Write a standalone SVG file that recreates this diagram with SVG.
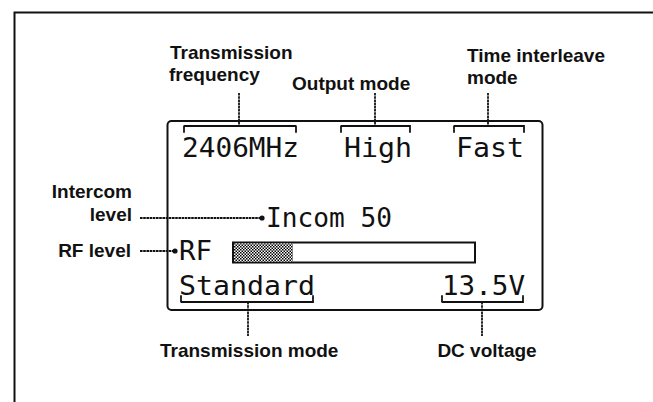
<svg xmlns="http://www.w3.org/2000/svg" width="653" height="402" viewBox="0 0 653 402">
<defs>
<pattern id="dots" width="3" height="3" patternUnits="userSpaceOnUse">
<rect width="3" height="3" fill="#fff"/>
<rect width="1.5" height="1.5" fill="#000"/>
<rect x="1.5" y="1.5" width="1.5" height="1.5" fill="#000"/>
</pattern>
</defs>
<style>
.lbl{font-family:"Liberation Sans",Arial,sans-serif;font-size:19px;font-weight:bold;fill:#111}
.lcd{font-family:"DejaVu Sans Mono","Liberation Mono",monospace;font-size:26px;fill:#111}
.frame{fill:none;stroke:#111;stroke-width:2}
.wav{fill:none;stroke:#111;stroke-width:1.8;stroke-dasharray:2.6 0.6}
.brk{fill:none;stroke:#111;stroke-width:1.8;stroke-dasharray:2.6 0.6;stroke-linecap:round}
.dot{fill:#111}
</style>
<rect width="653" height="402" fill="#fff"/>
<g id="frame">
<path class="frame" d="M14.5,402 V12.5 H653"/>
</g>
<g id="lcd-panel">
<rect class="frame" x="167.5" y="121" width="375" height="189" rx="4"/>
</g>
<g id="node-frequency">
<text class="lcd" x="182" y="157" textLength="117" lengthAdjust="spacingAndGlyphs">2406MHz</text>
</g>
<g id="node-output">
<text class="lcd" x="344" y="157" textLength="68" lengthAdjust="spacingAndGlyphs">High</text>
</g>
<g id="node-interleave">
<text class="lcd" x="456" y="157" textLength="68" lengthAdjust="spacingAndGlyphs">Fast</text>
</g>
<g id="node-incom">
<text class="lcd" x="266" y="227" textLength="126" lengthAdjust="spacingAndGlyphs">Incom 50</text>
</g>
<g id="node-rf">
<text class="lcd" x="179" y="260" textLength="33" lengthAdjust="spacingAndGlyphs">RF</text>
<rect x="233" y="242.5" width="242" height="20" fill="#fff" stroke="#111" stroke-width="2"/>
<rect x="234" y="243.5" width="59" height="18" fill="url(#dots)"/>
</g>
<g id="node-standard">
<text class="lcd" x="179" y="295" textLength="136" lengthAdjust="spacingAndGlyphs">Standard</text>
</g>
<g id="node-voltage">
<text class="lcd" x="442" y="295" textLength="83" lengthAdjust="spacingAndGlyphs">13.5V</text>
</g>
<g id="labels">
<text class="lbl" x="170" y="59">Transmission</text>
<text class="lbl" x="169" y="81">frequency</text>
<text class="lbl" x="292" y="90">Output mode</text>
<text class="lbl" x="467" y="62">Time interleave</text>
<text class="lbl" x="467" y="84">mode</text>
<text class="lbl" x="132" y="198" text-anchor="end">Intercom</text>
<text class="lbl" x="132" y="221" text-anchor="end">level</text>
<text class="lbl" x="131" y="257" text-anchor="end">RF level</text>
<text class="lbl" x="160" y="357">Transmission mode</text>
<text class="lbl" x="487" y="357" text-anchor="middle">DC voltage</text>
</g>
<g id="connectors">
<path class="brk" d="M184,132 V126 H296 V132"/>
<path class="wav" d="M239,93 V126"/>
<path class="brk" d="M341,132 V126 H410 V132"/>
<path class="wav" d="M375,93 V126"/>
<path class="brk" d="M454,132 V126 H524 V132"/>
<path class="wav" d="M488,93 V126"/>
<path class="brk" d="M181,296 V302 H313 V296"/>
<path class="wav" d="M248,302 V336"/>
<path class="brk" d="M442,296 V302 H523 V296"/>
<path class="wav" d="M482,302 V336"/>
<path class="wav" d="M140,218 H261"/>
<circle class="dot" cx="262" cy="218" r="2.6"/>
<path class="wav" d="M140,251 H174"/>
<circle class="dot" cx="175" cy="251" r="2.6"/>
</g>
</svg>
